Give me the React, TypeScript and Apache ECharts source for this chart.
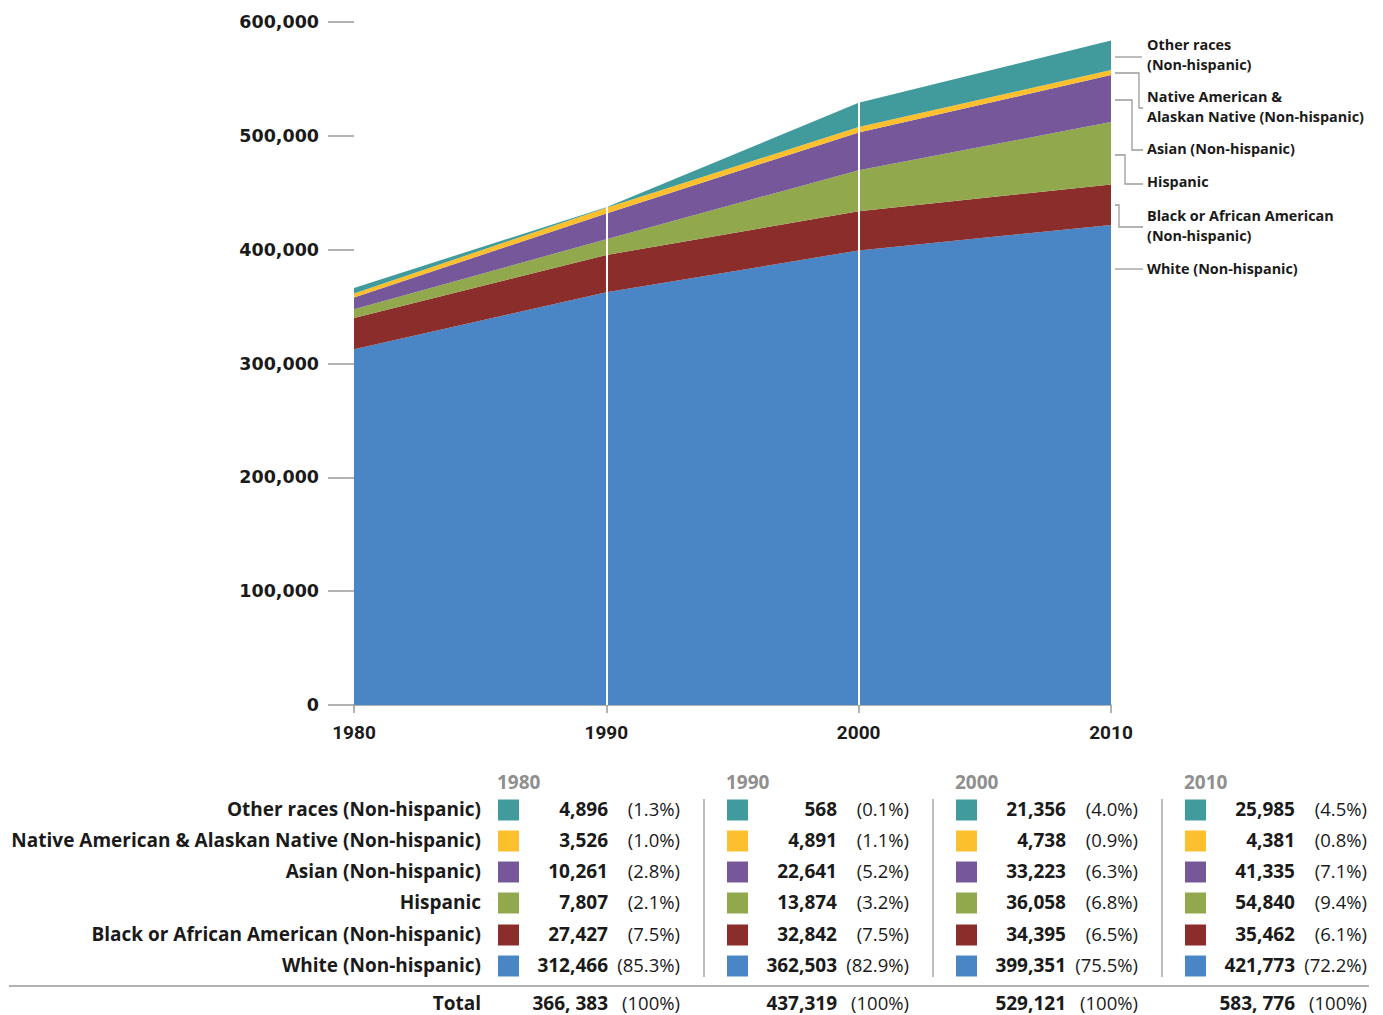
import React, { useEffect, useRef } from "react";
import * as echarts from "echarts";

const years = ["1980", "1990", "2000", "2010"];
const seriesNames = [
  "White (Non-hispanic)",
  "Black or African American (Non-hispanic)",
  "Hispanic",
  "Asian (Non-hispanic)",
  "Native American & Alaskan Native (Non-hispanic)",
  "Other races (Non-hispanic)",
];
const seriesColors = ["#4a86c5", "#8a2d2b", "#91a84c", "#76589a", "#fcbf2e", "#419a9b"];

const white = [312466, 362503, 399351, 421773];
const black = [27427, 32842, 34395, 35462];
const hispanic = [7807, 13874, 36058, 54840];
const asian = [10261, 22641, 33223, 41335];
const nativeAmerican = [3526, 4891, 4738, 4381];
const otherRaces = [4896, 568, 21356, 25985];

const pctWhite = [85.3, 82.9, 75.5, 72.2];
const pctBlack = [7.5, 7.5, 6.5, 6.1];
const pctHispanic = [2.1, 3.2, 6.8, 9.4];
const pctAsian = [2.8, 5.2, 6.3, 7.1];
const pctNative = [1.0, 1.1, 0.9, 0.8];
const pctOther = [1.3, 0.1, 4.0, 4.5];

const totalLabels = ["366, 383", "437,319", "529,121", "583, 776"];

const yTicks = { min: 0, max: 600000, interval: 100000 };

// right-side annotation labels (top to bottom)
const annotationLabels = [
  ["Other races", "(Non-hispanic)"],
  ["Native American &", "Alaskan Native (Non-hispanic)"],
  ["Asian (Non-hispanic)"],
  ["Hispanic"],
  ["Black or African American", "(Non-hispanic)"],
  ["White (Non-hispanic)"],
];

const fmt = (v: number) => v.toLocaleString("en-US");

export default function App() {
  const ref = useRef<HTMLDivElement>(null);
  useEffect(() => {
    document.body.style.margin = "0";
    const chart = echarts.init(ref.current!, undefined, { renderer: "svg" });
    const values = [white, black, hispanic, asian, nativeAmerican, otherRaces];
    const pcts = [pctWhite, pctBlack, pctHispanic, pctAsian, pctNative, pctOther];

    const series: any[] = values.map((d, i) => ({
      name: seriesNames[i],
      type: "line",
      stack: "pop",
      data: d,
      symbol: "none",
      lineStyle: { width: 0 },
      areaStyle: { color: seriesColors[i], opacity: 1 },
      itemStyle: { color: seriesColors[i] },
      z: 2,
    }));
    series[series.length - 1].markLine = {
      silent: true,
      symbol: "none",
      label: { show: false },
      lineStyle: { color: "#ffffff", width: 2, type: "solid" },
      data: [{ xAxis: "1990" }, { xAxis: "2000" }],
    };

    const graphics: any[] = [];
    const tableFont = "'Open Sans', Roboto, sans-serif";
    const axisFont = "Roboto, 'Noto Sans', sans-serif";
    const gray = "#8f8f8f";
    const ink = "#1a1a1a";
    const dy = -1.5; // Open Sans optical offset

    // Right annotation labels
    const annY = [46, 98, 150, 183, 217, 270];
    annotationLabels.forEach((lines, i) => {
      lines.forEach((t, j) => {
        graphics.push({
          type: "text",
          style: {
            text: t,
            x: 1147,
            y: annY[i] + j * 19.5 + dy,
            align: "left",
            verticalAlign: "middle",
            fill: ink,
            fontFamily: tableFont,
            fontWeight: "bold",
            fontSize: 14.4,
          },
        });
      });
    });
    const leaderStyle = { stroke: "#9a9a9a", lineWidth: 1.3, fill: "none" };
    const leaders = [
      [[1115, 57], [1142, 57]],
      [[1115, 73], [1139, 73], [1139, 108], [1143, 108]],
      [[1115, 100], [1132, 100], [1132, 150], [1143, 150]],
      [[1115, 155], [1125, 155], [1125, 184], [1143, 184]],
      [[1115, 205], [1119, 205], [1119, 227], [1143, 227]],
      [[1115, 269], [1143, 269]],
    ];
    leaders.forEach((pts) =>
      graphics.push({ type: "polyline", shape: { points: pts }, style: leaderStyle })
    );

    // Table
    const groupX = [497, 726, 955, 1184];
    const rowY = [810, 841, 872, 903, 935, 966];
    const tableOrder = [5, 4, 3, 2, 1, 0]; // top-to-bottom series index
    const labelRight = 481;
    const fs = 19;
    const boldText = (text: string, x: number, y: number, align: string, fill = ink) => ({
      type: "text",
      style: {
        text,
        x,
        y: y + dy,
        align,
        verticalAlign: "middle",
        fill,
        fontFamily: tableFont,
        fontWeight: "bold",
        fontSize: fs,
      },
    });
    const plainText = (text: string, x: number, y: number) => ({
      type: "text",
      style: {
        text,
        x,
        y: y + dy,
        align: "right",
        verticalAlign: "middle",
        fill: ink,
        fontFamily: tableFont,
        fontWeight: "normal",
        fontSize: 18.5,
      },
    });
    tableOrder.forEach((si, r) => {
      graphics.push(boldText(seriesNames[si], labelRight, rowY[r], "right"));
    });
    groupX.forEach((gx, c) => {
      graphics.push(boldText(years[c], gx, 783, "left", gray));
      if (c > 0) {
        graphics.push({
          type: "line",
          shape: { x1: gx - 22, y1: 799, x2: gx - 22, y2: 977 },
          style: { stroke: "#9a9a9a", lineWidth: 1.3 },
        });
      }
      tableOrder.forEach((si, r) => {
        graphics.push({
          type: "rect",
          shape: { x: gx + 1, y: rowY[r] - 10.5, width: 21, height: 21 },
          style: { fill: seriesColors[si] },
        });
        graphics.push(boldText(fmt(values[si][c]), gx + 111, rowY[r], "right"));
        graphics.push(plainText("(" + pcts[si][c].toFixed(1) + "%)", gx + 183, rowY[r]));
      });
      graphics.push(boldText(totalLabels[c], gx + 111, 1004, "right"));
      graphics.push(plainText("(100%)", gx + 183, 1004));
    });
    graphics.push(boldText("Total", labelRight, 1004, "right"));
    graphics.push({
      type: "line",
      shape: { x1: 9, y1: 986, x2: 1369, y2: 986 },
      style: { stroke: "#9a9a9a", lineWidth: 1.5 },
    });

    chart.setOption({
      animation: false,
      backgroundColor: "#ffffff",
      grid: { left: 354, right: 272, top: 22, bottom: 310, containLabel: false },
      xAxis: {
        type: "category",
        data: years,
        boundaryGap: false,
        axisLine: { show: true, lineStyle: { color: "#9a9a9a", width: 1.5 } },
        axisTick: { show: true, length: 8, lineStyle: { color: "#9a9a9a", width: 1.5 } },
        axisLabel: {
          margin: 18,
          color: ink,
          fontFamily: axisFont,
          fontWeight: "bold",
          fontSize: 19,
        },
        splitLine: { show: false },
      },
      yAxis: {
        type: "value",
        min: yTicks.min,
        max: yTicks.max,
        interval: yTicks.interval,
        axisLine: { show: false },
        axisTick: { show: true, length: 26, lineStyle: { color: "#9a9a9a", width: 1.5 } },
        axisLabel: {
          margin: 35,
          color: ink,
          fontFamily: "'DejaVu Sans', sans-serif",
          fontWeight: "bold",
          fontSize: 17.5,
          formatter: (v: number) => fmt(v),
        },
        splitLine: { show: false },
      },
      series,
      graphic: graphics,
    });
    return () => chart.dispose();
  }, []);
  return <div ref={ref} style={{ width: 1383, height: 1015 }} />;
}
